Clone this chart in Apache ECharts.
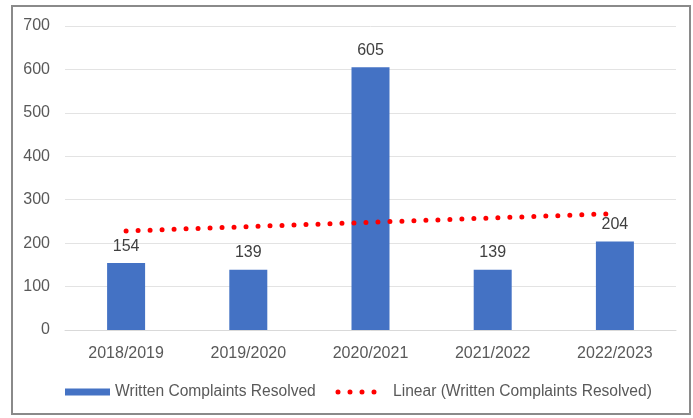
<!DOCTYPE html>
<html><head><meta charset="utf-8">
<script src="https://cdn.jsdelivr.net/npm/echarts@6/dist/echarts.min.js"></script>
<style>html,body{margin:0;padding:0;background:#fff}#c{width:693px;height:418px}</style>
</head><body><div id="c"></div>
<script>
const categories = ['2018/2019','2019/2020','2020/2021','2021/2022','2022/2023'];
const complaintsResolved = [154, 139, 605, 139, 204];
const linearTrend = [228, 238, 248, 258, 268];
const yTicks = {min: 0, max: 700, interval: 100};

const chart = echarts.init(document.getElementById('c'), null, {renderer: 'canvas'});
const font = "'Liberation Sans', Arial, sans-serif";
const dotsIcon = 'path://M0,0L0.01,0L0,0.01Z M56,7L55.99,7L56,6.99Z ' +
  [6, 18, 30, 42].map(c => `M${c - 2.5},3.5a2.5,2.5 0 1,0 5,0a2.5,2.5 0 1,0 -5,0Z`).join(' ');
const legendText = {color: '#595959', fontSize: 15.6, fontFamily: font};
chart.setOption({
  animation: false,
  backgroundColor: '#fff',
  textStyle: {fontFamily: font},
  graphic: [{
    type: 'rect', shape: {x: 12, y: 6, width: 678, height: 408},
    style: {fill: 'none', stroke: '#8a8a8a', lineWidth: 2}, silent: true
  }],
  grid: {left: 65, right: 17, top: 26, bottom: 88},
  legend: [{
    top: 384, left: 65, padding: 0,
    itemWidth: 45, itemHeight: 7,
    textStyle: legendText,
    data: [{name: 'Written Complaints Resolved', icon: 'rect'}]
  }, {
    top: 384, left: 332, padding: 0,
    itemWidth: 56, itemHeight: 7,
    textStyle: legendText,
    data: [{name: 'Linear (Written Complaints Resolved)', icon: dotsIcon, itemStyle: {color: '#ff0000'}}]
  }],
  xAxis: {
    type: 'category', data: categories,
    axisLine: {lineStyle: {color: '#d9d9d9', width: 1}},
    axisTick: {show: false},
    axisLabel: {color: '#595959', fontSize: 16, margin: 16, fontFamily: font}
  },
  yAxis: {
    type: 'value', min: yTicks.min, max: yTicks.max, interval: yTicks.interval,
    axisLine: {show: false}, axisTick: {show: false},
    splitLine: {lineStyle: {color: '#e3e3e3', width: 1}},
    axisLabel: {color: '#595959', fontSize: 16, margin: 15, fontFamily: font}
  },
  series: [
    {
      name: 'Written Complaints Resolved', type: 'bar', data: complaintsResolved,
      barWidth: 38,
      itemStyle: {color: '#4472C4'},
      label: {show: true, position: 'top', distance: 9, color: '#404040', fontSize: 16, fontFamily: font}
    },
    {
      name: 'Linear (Written Complaints Resolved)', type: 'line', data: linearTrend,
      symbol: 'none', showSymbol: false, z: 5,
      itemStyle: {color: '#ff0000'},
      lineStyle: {color: '#ff0000', width: 5, type: [0, 12], cap: 'round'}
    }
  ]
});
</script></body></html>
